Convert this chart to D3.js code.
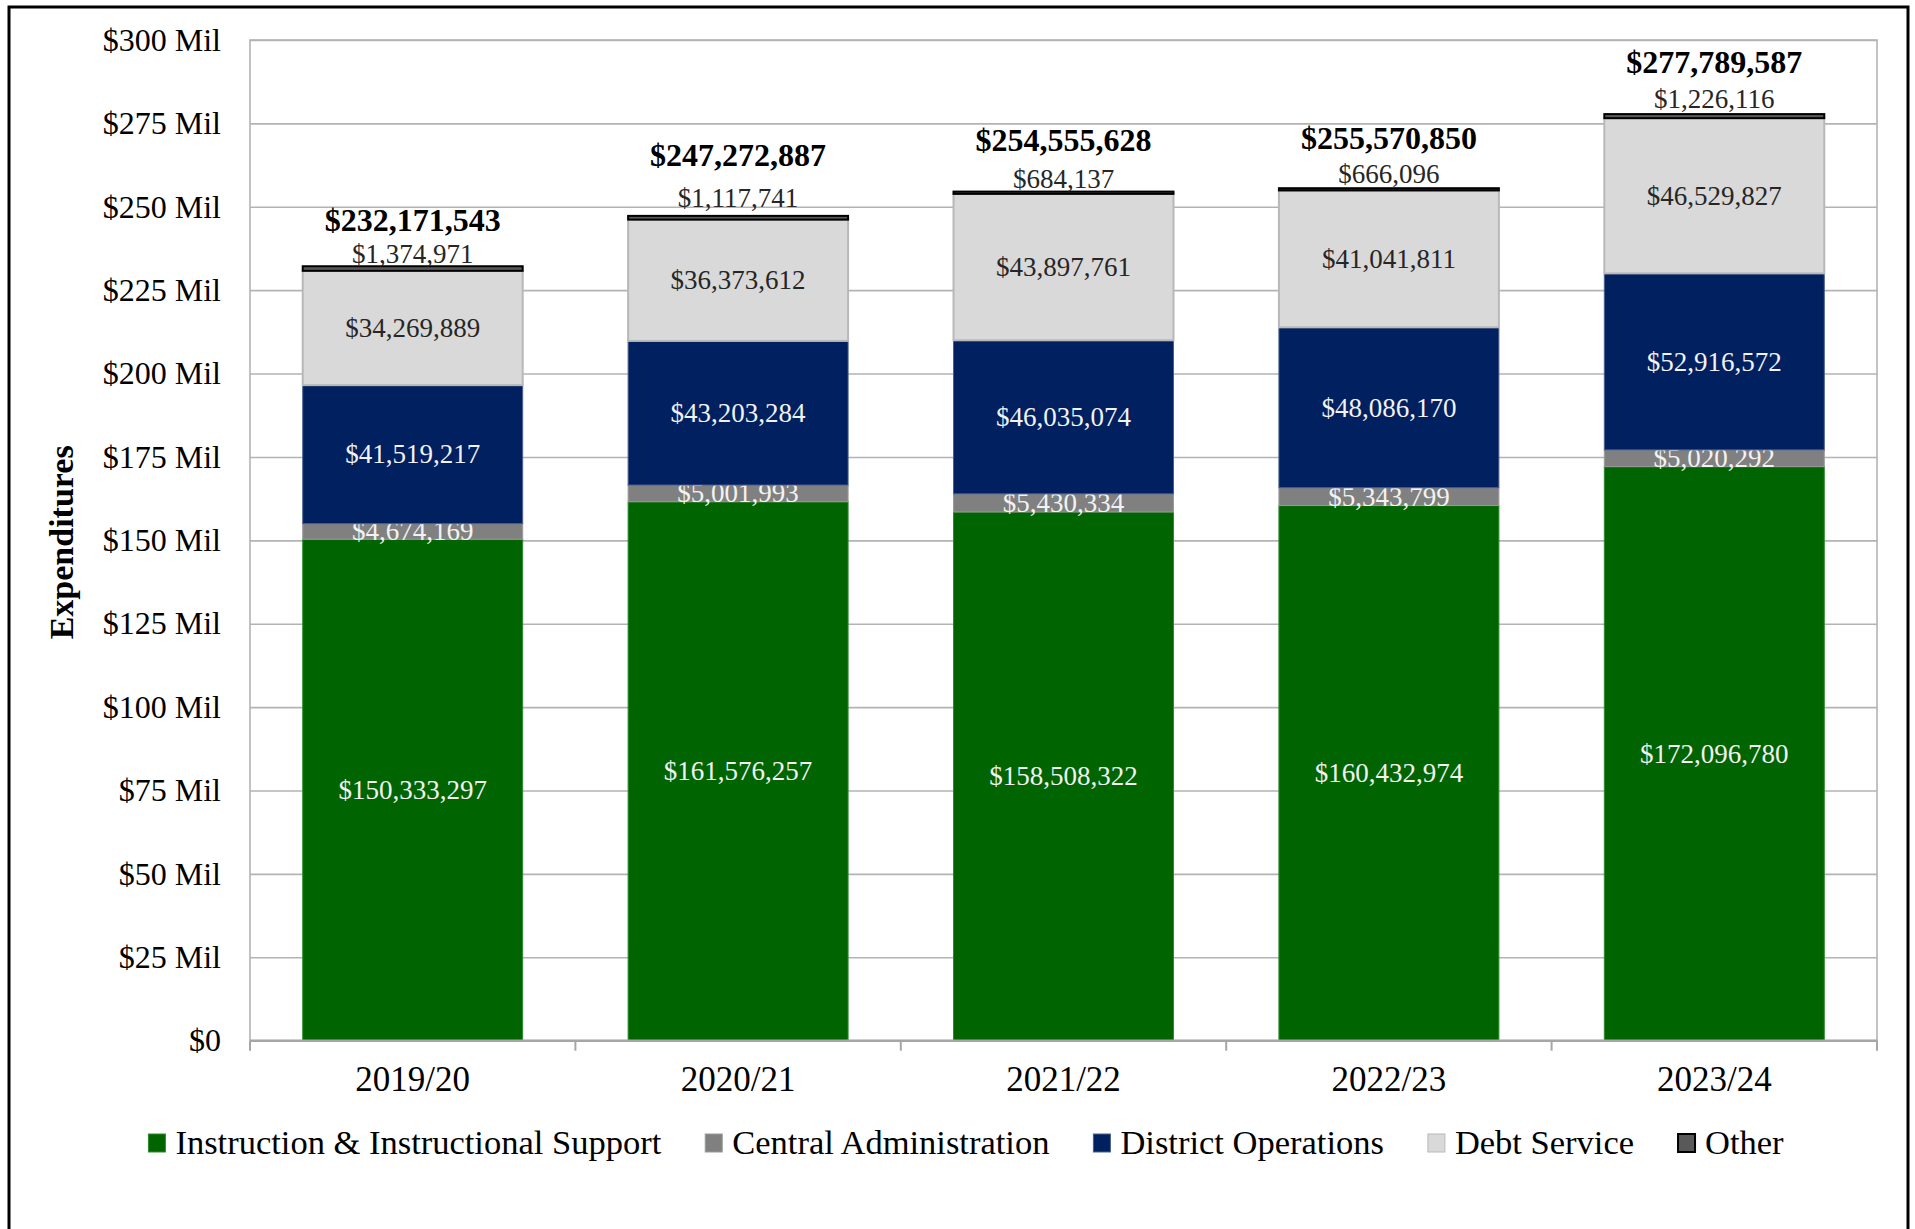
<!DOCTYPE html>
<html>
<head>
<meta charset="utf-8">
<script src="https://cdn.jsdelivr.net/npm/d3@7/dist/d3.min.js"></script>
<style>
  html, body { margin: 0; padding: 0; background: #fff; }
  svg { display: block; font-family: "Liberation Serif", "DejaVu Serif", serif; }
</style>
</head>
<body>
<div id="chart"></div>
<script>
// =====================================
// DATA
// =====================================

const years = ["2019/20", "2020/21", "2021/22", "2022/23", "2023/24"];

const instruction = [150333297, 161576257, 158508322, 160432974, 172096780];
const centralAdmin = [4674169, 5001993, 5430334, 5343799, 5020292];
const districtOps = [41519217, 43203284, 46035074, 48086170, 52916572];
const debtService = [34269889, 36373612, 43897761, 41041811, 46529827];
const other = [1374971, 1117741, 684137, 666096, 1226116];
const totals = [232171543, 247272887, 254555628, 255570850, 277789587];

const yTicks = [0, 25e6, 50e6, 75e6, 100e6, 125e6, 150e6, 175e6, 200e6, 225e6, 250e6, 275e6, 300e6];

const seriesNames = [
  "Instruction & Instructional Support",
  "Central Administration",
  "District Operations",
  "Debt Service",
  "Other"
];
const seriesValues = [instruction, centralAdmin, districtOps, debtService, other];

// =====================================
// DIMENSIONS / STYLE
// =====================================

const W = 1915, H = 1229;
const margin = { top: 40, right: 38, bottom: 188.3, left: 250 };
const width = W - margin.left - margin.right;
const height = H - margin.top - margin.bottom;

const fills = ["#006400", "#808080", "#002060", "#d9d9d9", "#595959"];
const strokes = ["#2e8b2e", "#9a9a9a", "#4a5f8c", "#b8b8b8", "#000000"];
const strokeW = [1, 1, 1, 2, 2];
const labelColors = ["#f2f2f2", "#f2f2f2", "#f2f2f2", "#262626", "#262626"];

// label lift above each bar (px), placed by hand in the original
const totalLift = [46, 61, 52, 50, 52];
const otherLift = [12, 18, 13, 14, 15];

const svg = d3.select("#chart")
  .append("svg")
  .attr("width", W)
  .attr("height", H);

// outer frame
svg.append("rect")
  .attr("x", 9).attr("y", 7)
  .attr("width", 1899).attr("height", 1240)
  .attr("fill", "none")
  .attr("stroke", "#000")
  .attr("stroke-width", 3);

const g = svg.append("g")
  .attr("transform", `translate(${margin.left},${margin.top})`);

// =====================================
// SCALES
// =====================================

const x = d3.scaleBand()
  .domain(years)
  .range([0, width])
  .paddingInner(0.324)
  .paddingOuter(0.162);

const y = d3.scaleLinear()
  .domain([0, 300e6])
  .range([height, 0]);

// =====================================
// GRID + AXES
// =====================================

const grid = g.append("g")
  .call(d3.axisLeft(y).tickValues(yTicks).tickSize(-width).tickFormat(""));
grid.select(".domain").remove();
grid.selectAll("line").attr("stroke", "#b3b3b3").attr("stroke-width", 1.6);

// plot border
g.append("rect")
  .attr("x", 0).attr("y", 0)
  .attr("width", width).attr("height", height)
  .attr("fill", "none")
  .attr("stroke", "#b3b3b3")
  .attr("stroke-width", 1.6);

const yAxis = g.append("g")
  .call(d3.axisLeft(y)
    .tickValues(yTicks)
    .tickSize(0)
    .tickPadding(29)
    .tickFormat(d => d === 0 ? "$0" : `$${d / 1e6} Mil`));
yAxis.select(".domain").remove();
yAxis.selectAll("text")
  .attr("font-size", 32)
  .attr("font-family", "Liberation Serif")
  .attr("fill", "#000");

// y title
svg.append("text")
  .attr("transform", `translate(61,${margin.top + height / 2 + 2}) rotate(-90)`)
  .attr("text-anchor", "middle")
  .attr("dominant-baseline", "central")
  .attr("font-size", 34)
  .attr("font-weight", "bold")
  .text("Expenditures");

// =====================================
// BARS
// =====================================

const stackData = years.map((yr, i) => {
  const row = { year: yr };
  seriesNames.forEach((s, k) => { row[s] = seriesValues[k][i]; });
  return row;
});

const stack = d3.stack().keys(seriesNames)(stackData);

const layers = g.selectAll(".layer")
  .data(stack)
  .enter()
  .append("g")
  .attr("class", "layer");

layers.selectAll("rect")
  .data((d, k) => d.map(p => ({ p, k })))
  .enter()
  .append("rect")
  .attr("x", d => x(d.p.data.year))
  .attr("width", x.bandwidth())
  .attr("y", d => y(d.p[1]))
  .attr("height", d => y(d.p[0]) - y(d.p[1]))
  .attr("fill", d => fills[d.k])
  .attr("stroke", d => strokes[d.k])
  .attr("stroke-width", d => strokeW[d.k]);

// x axis line + boundary ticks
g.append("line")
  .attr("x1", 0).attr("x2", width)
  .attr("y1", height).attr("y2", height)
  .attr("stroke", "#a6a6a6")
  .attr("stroke-width", 2.5);

g.selectAll(".xtick")
  .data(d3.range(years.length + 1))
  .enter()
  .append("line")
  .attr("x1", i => i * x.step()).attr("x2", i => i * x.step())
  .attr("y1", height).attr("y2", height + 10)
  .attr("stroke", "#a6a6a6")
  .attr("stroke-width", 2);

g.selectAll(".xlabel")
  .data(years)
  .enter()
  .append("text")
  .attr("x", d => x(d) + x.bandwidth() / 2)
  .attr("y", height + 39)
  .attr("text-anchor", "middle")
  .attr("dominant-baseline", "central")
  .attr("font-size", 35)
  .text(d => d);

// =====================================
// VALUE LABELS
// =====================================

const fmt = d3.format("$,");

layers.filter((d, k) => k < 4)
  .selectAll("text")
  .data((d, k) => d.map(p => ({ p, k })))
  .enter()
  .append("text")
  .attr("x", d => x(d.p.data.year) + x.bandwidth() / 2)
  .attr("y", d => (y(d.p[0]) + y(d.p[1])) / 2)
  .attr("text-anchor", "middle")
  .attr("dominant-baseline", "central")
  .attr("font-size", 27)
  .attr("fill", d => labelColors[d.k])
  .text(d => fmt(d.p[1] - d.p[0]));

// other labels just above the bar
g.selectAll(".other-label")
  .data(years)
  .enter()
  .append("text")
  .attr("x", d => x(d) + x.bandwidth() / 2)
  .attr("y", (d, i) => y(totals[i]) - otherLift[i])
  .attr("text-anchor", "middle")
  .attr("dominant-baseline", "central")
  .attr("font-size", 27)
  .attr("fill", "#262626")
  .text((d, i) => fmt(other[i]));

// totals
g.selectAll(".total-label")
  .data(years)
  .enter()
  .append("text")
  .attr("x", d => x(d) + x.bandwidth() / 2)
  .attr("y", (d, i) => y(totals[i]) - totalLift[i])
  .attr("text-anchor", "middle")
  .attr("dominant-baseline", "central")
  .attr("font-size", 32)
  .attr("font-weight", "bold")
  .attr("fill", "#000")
  .text((d, i) => fmt(totals[i]));

// =====================================
// LEGEND
// =====================================

const legend = svg.append("g");
const items = legend.selectAll("g")
  .data(seriesNames)
  .enter()
  .append("g");

items.append("rect")
  .attr("x", 0).attr("y", -8)
  .attr("width", 17).attr("height", 18)
  .attr("fill", (d, k) => fills[k])
  .attr("stroke", (d, k) => k === 4 ? "#000" : strokes[k])
  .attr("stroke-width", (d, k) => k === 4 ? 2 : 1);

items.append("text")
  .attr("x", 27)
  .attr("y", 0)
  .attr("dominant-baseline", "central")
  .attr("font-size", 34.5)
  .text(d => d);

let cursor = 0;
items.each(function() {
  const it = d3.select(this);
  it.attr("transform", `translate(${cursor},0)`);
  cursor += 27 + it.select("text").node().getComputedTextLength() + 44;
});
cursor -= 44;
legend.attr("transform", `translate(${966 - cursor / 2},1142)`);
</script>
</body>
</html>
